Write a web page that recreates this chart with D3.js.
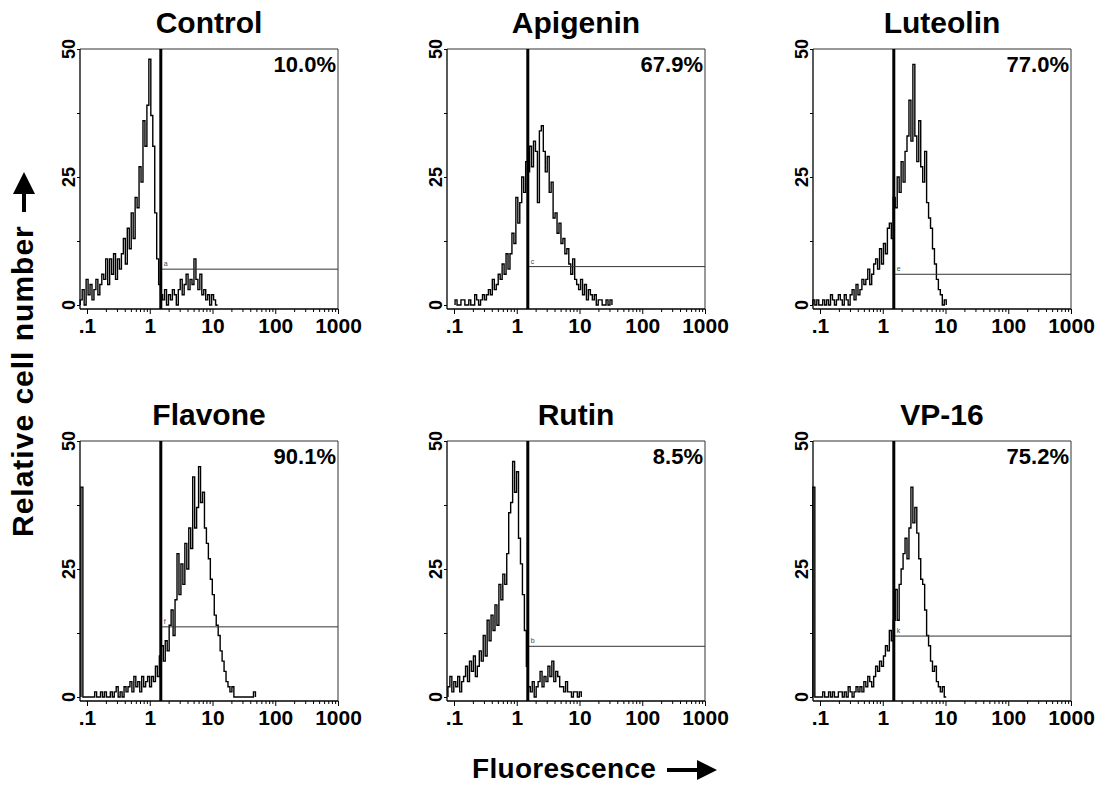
<!DOCTYPE html>
<html>
<head>
<meta charset="utf-8">
<script src="https://cdn.jsdelivr.net/npm/d3@7"></script>
<style>
body { margin: 0; background: #fff; }
text { font-family: "Liberation Sans", Arial, sans-serif; font-weight: bold; fill: #000; }
</style>
</head>
<body>
<script>
const width = 1102
const height = 785

// panels, left to right, top to bottom
const names = ['Control', 'Apigenin', 'Luteolin', 'Flavone', 'Rutin', 'VP-16']
const percents = ['10.0%', '67.9%', '77.0%', '90.1%', '8.5%', '75.2%']
const markers = ['a', 'c', 'e', 'f', 'b', 'k']
const gateValue = 1.5
const gateLevels = [7, 7.5, 6, 13.7, 9.9, 11.9]

// histogram channels: first channel position, 32 channels per decade
const binStarts = [0.078, 0.104, 0.077, 0.080, 0.080, 0.077]
const binsPerDecade = 32

const controlCounts = [1,3,0,5,2,4,1,3,5,2,4,6, 5,9,4,9,6,10,5,9,7, 10,13,8,15,11, 18,13,21,19, 27,24,
  36,31,39, 48, 37, 31,18,9, 4, 2, 1,3,0,2,1,3,2,0, 3,5,2,4,6,3,5,4,9,5,3,6,2, 3,1,2,0,2,1,0]
const apigeninCounts = [1,0,0,1,1,0,0,1,0,0,2,1,0,1, 2,1,2,3,2,5,3, 4,6,5,8,6,10,7, 10,14,12,21,16,
  20,25,22,28, 26,31,27,32, 30,20,34, 35, 30,26,29, 22,24,17, 18,14,16, 12,13,10,11, 8,6,9,5,4,
  3,5,2,4,1,3,2,1, 2,0,1,1,0, 0,1,0,1]
const luteolinCounts = [1,0,1,0,0,1,0,1,0,2,1,0,1,2,1,0,2,1,0,2, 3,1,4,2,3,5,4, 5,7,4,6,8,
  9,7,11,8,12,10,15, 16,13,21, 19,25,22, 28,24,30, 33,40,32, 47, 33,28,36, 27,24,30, 20,17,15,
  11,8, 5,3,2,0,1]
const flavoneCounts = [41, 0,0,0,0,0,0, 1,0,0,1,0,1,0,0,1,0,1,2,0,1,0,2,1,
  2,3,1,4,2,3,1,4,2,3,4,2,4,3, 6,4,8, 10,7,11,9, 14,17,12,19, 28,20,26,22, 30,25,33,29,
  43,33,37, 45,38,40, 33,30, 27,23, 20,16,14,12, 9,7,5, 3,2,1,2,0, 0,0,0,0,0,0,0,0,0,1]
const rutinCounts = [2,4,1,3,2,4,1,3, 4,6,3,7,5,8,4,6, 9,7,12,8,15, 11,16,13,18,14, 22,19,24,22,
  28,36,38, 46, 40,44, 31,26,20, 13,6, 2, 1,3,0,2, 3,5,2,4,3,6,4,7,3,5,4,2, 2,1,3,1, 1,0,1,1,0,1]
const vp16Counts = [41, 0,0,0, 0,1,0,0,1,0,1,0,0,1,1,0,1,0,2,1,0,1,2, 1,2,1,3,2,4,3,2,
  4,6,5,7,6, 8,10,9,13,11, 15, 21,15,22, 25,28, 31,27,33, 41, 34,37,32, 27,23, 22,17, 12,10,
  7,5,6,3, 2,1,2,0]
const allCounts = [controlCounts, apigeninCounts, luteolinCounts, flavoneCounts, rutinCounts, vp16Counts]

const xTickValues = [0.1, 1, 10, 100, 1000]
const xTickLabels = ['.1', '1', '10', '100', '1000']
const xMinorTicks = [0.1, 1, 10, 100].flatMap(d => [2,3,4,5,6,7,8,9].map(m => d * m))
const yTickValues = [0, 25, 50]
const yAllTicks = [0, 12.5, 25, 37.5, 50]

// layout
const colLefts = [80, 447, 813]
const rowTops = [49, 441]
const panelW = 258
const panelH = 260

var svg = d3.select('body').append('svg')
    .attr('width', width)
    .attr('height', height)

names.forEach(function(name, k) {
    let L = colLefts[k % 3]
    let T = rowTops[Math.floor(k / 3)]
    let R = L + panelW
    let B = T + panelH

    let x = d3.scaleLog().domain([0.1, 1000]).range([L + 7, R])
    let y = d3.scaleLinear().domain([0, 50]).range([B - 4, T])

    let g = svg.append('g')

    // frame
    g.append('line').attr('x1', L).attr('y1', T).attr('x2', R).attr('y2', T)
        .style('stroke', '#333').style('stroke-width', 1)
    g.append('line').attr('x1', R).attr('y1', T).attr('x2', R).attr('y2', B)
        .style('stroke', '#333').style('stroke-width', 1)
    g.append('line').attr('x1', L).attr('y1', T).attr('x2', L).attr('y2', B)
        .style('stroke', '#000').style('stroke-width', 1.3)
    g.append('line').attr('x1', L).attr('y1', B).attr('x2', R).attr('y2', B)
        .style('stroke', '#000').style('stroke-width', 1.3)

    // x axis
    let minor = g.append('g').attr('transform', 'translate(0,' + B + ')')
        .call(d3.axisBottom(x).tickValues(xMinorTicks).tickSize(3).tickFormat(''))
    minor.select('.domain').remove()
    let major = g.append('g').attr('transform', 'translate(0,' + B + ')')
        .call(d3.axisBottom(x).tickValues(xTickValues).tickSize(5).tickPadding(4)
            .tickFormat((d, i) => xTickLabels[i]))
    major.select('.domain').remove()
    major.selectAll('text')
        .style('font-family', '"Liberation Sans", Arial, sans-serif')
        .style('font-weight', 'bold')
        .style('font-size', '21px')
        .attr('fill', '#000')

    // y axis
    let ya = g.append('g').attr('transform', 'translate(' + L + ',0)')
        .call(d3.axisLeft(y).tickValues(yAllTicks).tickSize(3).tickFormat(''))
    ya.select('.domain').remove()
    yTickValues.forEach(function(v) {
        g.append('text')
            .attr('transform', 'translate(' + (L - 5) + ',' + y(v) + ') rotate(-90)')
            .attr('text-anchor', 'middle')
            .style('font-size', '18px')
            .text(v)
    })

    // histogram
    let counts = allCounts[k]
    let start = binStarts[k]
    let pts = [{v: start, c: 0}]
    counts.forEach(function(c, i) {
        pts.push({v: start * Math.pow(10, i / binsPerDecade), c: c})
    })
    pts.push({v: start * Math.pow(10, counts.length / binsPerDecade), c: 0})

    let line = d3.line()
        .x(d => x(d.v))
        .y(d => y(d.c))
        .curve(d3.curveStepAfter)

    g.append('path')
        .attr('d', line(pts))
        .style('fill', 'none')
        .style('stroke', '#000')
        .style('stroke-width', 1.4)

    // gate
    let gx = x(gateValue)
    g.append('line').attr('x1', gx + 1).attr('y1', y(gateLevels[k])).attr('x2', R).attr('y2', y(gateLevels[k]))
        .style('stroke', '#333').style('stroke-width', 1)
    g.append('line').attr('x1', gx).attr('y1', T).attr('x2', gx).attr('y2', B)
        .style('stroke', '#000').style('stroke-width', 3)
    g.append('text')
        .attr('x', gx + 3).attr('y', y(gateLevels[k]) - 3)
        .style('font-size', '7px').style('font-weight', 'normal').style('fill', '#444')
        .text(markers[k])

    // labels
    g.append('text')
        .attr('x', (L + R) / 2).attr('y', T - 16)
        .attr('text-anchor', 'middle')
        .style('font-size', '30px')
        .text(name)
    g.append('text')
        .attr('x', R - 2).attr('y', T + 23)
        .attr('text-anchor', 'end')
        .style('font-size', '22px')
        .text(percents[k])
})

// y title with arrow
svg.append('text')
    .attr('transform', 'translate(33,537) rotate(-90)')
    .style('font-size', '30px')
    .style('letter-spacing', '1px')
    .text('Relative cell number')
svg.append('rect').attr('x', 22).attr('y', 191).attr('width', 4).attr('height', 21).style('fill', '#000')
svg.append('path').attr('d', 'M24,172 L35,194 L13,194 Z').style('fill', '#000')

// x title with arrow
svg.append('text')
    .attr('x', 472).attr('y', 778)
    .style('font-size', '28px')
    .style('letter-spacing', '0.3px')
    .text('Fluorescence')
svg.append('rect').attr('x', 667).attr('y', 768).attr('width', 33).attr('height', 4).style('fill', '#000')
svg.append('path').attr('d', 'M717,770 L697,760 L697,780 Z').style('fill', '#000')
</script>
</body>
</html>
